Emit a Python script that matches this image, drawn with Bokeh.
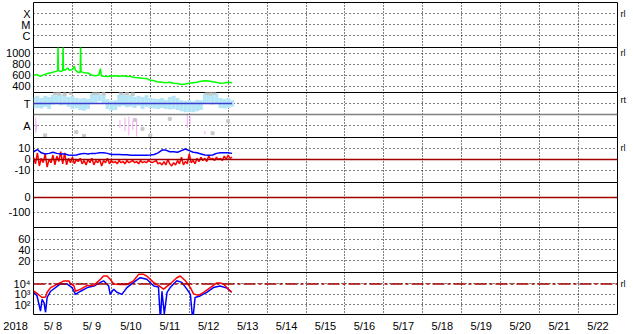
from bokeh.plotting import figure
from bokeh.layouts import column
from bokeh.models import Range1d, FixedTicker, Span, LinearAxis, LogAxis
from bokeh.embed import file_html
from bokeh.resources import INLINE

FONT = "Liberation Sans"

# ---------------- x axis (days since 2018-05-08 00UT) ----------------
year_label = "2018"
day_labels = ["5/ 8", "5/ 9", "5/10", "5/11", "5/12", "5/13", "5/14", "5/15",
              "5/16", "5/17", "5/18", "5/19", "5/20", "5/21", "5/22"]
N_DAYS = len(day_labels)

# ---------------- panel 1 : X-ray class ----------------
xray_ticks = [3, 2, 1]
xray_labels = ["X", "M", "C"]

# ---------------- panel 2 : solar wind speed ----------------
speed_ticks = [1000, 800, 600, 400]
speed_t = [0.00, 0.08, 0.17, 0.25, 0.33, 0.42, 0.50, 0.58, 0.62, 0.63, 0.64, 0.70, 0.75, 0.76, 0.77,
           0.83, 0.88, 0.92, 1.00, 1.05, 1.08, 1.13, 1.20, 1.21, 1.22, 1.30, 1.40, 1.50, 1.60, 1.68,
           1.72, 1.74, 1.80, 1.90, 2.00, 2.10, 2.20, 2.30, 2.40, 2.50, 2.60, 2.70, 2.80, 2.90, 3.00,
           3.10, 3.20, 3.30, 3.40, 3.50, 3.60, 3.70, 3.80, 3.90, 4.00, 4.10, 4.20, 4.30, 4.40, 4.50,
           4.60, 4.70, 4.80, 4.90, 5.00, 5.10]
speed_v = [590, 615, 580, 605, 625, 640, 655, 670, 680, 1150, 690, 665, 685, 1150, 690,
           700, 735, 690, 705, 765, 690, 660, 650, 1150, 665, 645, 640, 600, 590, 605,
           720, 590, 580, 575, 585, 590, 580, 592, 578, 575, 560, 555, 545, 540, 510,
           500, 475, 470, 462, 470, 455, 450, 432, 440, 452, 462, 472, 492, 500, 495,
           480, 470, 452, 458, 472, 465]

# ---------------- panel 3 : IMF sector (T / A) ----------------
sector_ticks = [1, -1]
sector_labels = ["T", "A"]
sector_t = [0.0, 5.1]
sector_v = [1, 1]
phi_hi = [1.6, 1.7, 1.5, 1.7, 1.6, 1.8, 1.75, 1.85, 1.7, 1.6,
          1.7, 1.5, 1.45, 1.5, 1.4, 1.9, 1.95, 1.85, 1.9, 1.4,
          1.25, 1.3, 1.8, 1.9, 1.7, 1.8, 1.6, 1.7, 1.6, 1.75,
          1.5, 1.45, 1.4, 1.5, 1.35, 1.6, 1.7, 1.5, 1.3, 1.25,
          1.3, 1.2, 1.35, 1.3, 1.9, 1.95, 1.85, 1.9, 1.5, 1.4,
          1.5, 1.3]
phi_lo = [0.5, 0.6, 0.55, 0.7, 0.5, 0.9, 1.0, 0.85, 0.9, 0.7,
          0.5, 0.6, 0.4, 0.35, 0.5, 1.0, 1.1, 1.2, 1.0, 0.5,
          0.35, 0.4, 0.7, 0.8, 0.65, 0.7, 0.6, 0.8, 0.5, 0.7,
          0.6, 0.55, 0.5, 0.6, 0.5, 0.45, 0.5, 0.4, 0.3, 0.2,
          0.25, 0.2, 0.3, 0.4, 1.0, 1.1, 0.9, 1.0, 0.6, 0.55,
          0.6, 0.7]
gray_t = [0.55, 0.65, 0.8, 0.95, 1.55, 1.65, 1.8, 2.25, 2.4, 2.55, 4.45, 4.55, 4.65,
          0.3, 1.1, 2.6, 2.8, 3.5, 4.6, 5.0, 1.3, 3.0]
gray_v = [1.95, 1.9, 1.85, 1.95, 1.95, 1.98, 1.9, 1.95, 1.9, 1.85, 1.95, 1.9, 1.98,
          -1.9, -1.6, -0.5, -1.3, -0.4, -1.7, -0.6, -1.95, -1.9]
pink_t = [0.06, 0.08, 2.22, 2.35, 2.45, 2.55, 2.65, 3.95, 4.02, 4.40]
pink_top = [-0.3, -0.9, -0.5, -0.3, -0.2, -0.6, -0.4, 0.1, -0.2, -1.5]
pink_bot = [-1.7, -1.4, -1.2, -1.5, -1.9, -1.4, -2.0, -1.2, -0.9, -1.8]

# ---------------- panel 4 : IMF Bt / Bz (nT) ----------------
imf_ticks = [10, 0, -10]
imf_labels = ["10", "0", "-10"]
bt = [7, 9, 6, 5, 5.5, 6.5, 5.5, 5, 5, 4,
      3.8, 4, 5, 5.5, 5, 5.5, 5.5, 6, 6, 5.5,
      4.5, 4.5, 4.5, 4.2, 4.2, 3.8, 3.8, 3.8, 3.8, 3.8,
      4, 4.5, 6, 8.5, 8.5, 7, 7, 6.5, 8, 9.5,
      8, 6.5, 6, 5, 4, 3.8, 4, 5.5, 6, 6,
      6, 5.5]
bz = [2, -4, 6, -6, 1, -3, 5, -7, 0, -3,
      4, -5, 3, -2, 7, -4, 6, -5, 1, -3,
      2, -4, 0, -2, 1, -4, -1, -5, 0, -3,
      1, -5, -1, -3, 0, -6, -1, -3, 1, -4,
      -1, -3, -2, -4, -1, -3, -2, -4, -1, -3,
      -2, -1, -3, -2, -4, -1, -3, -2, -3, -1,
      -2, -3, -2, -1, -4, -3, -5, -2, -5, 0,
      -4, -6, -3, -5, -1, -4, 2, -5, -2, -4,
      5, -3, -1, -4, 1, -2, 2, -1, 1, -2,
      3, 0, 1, -1, 2, 0, 1, -1, 3, 0,
      4, 1, 2]
bt_t = [i * 0.1 for i in range(len(bt))]
bz_t = [i * 0.05 for i in range(len(bz))]

# ---------------- panel 5 : Dst ----------------
dst_ticks = [0, -100]
dst_labels = ["0", "-100"]

# ---------------- panel 6 ----------------
p6_ticks = [60, 40, 20]
p6_labels = ["60", "40", "20"]

# ---------------- panel 7 : electron flux (log) ----------------
flux_ticks = [10000, 1000, 100]
flux_labels = ["10\u2074", "10\u00b3", "10\u00b2"]
flux_alert = 10000
red_t = [0.0, 0.09, 0.22, 0.31, 0.35, 0.44, 0.69, 0.78, 0.91, 0.95, 1.03, 1.08, 1.21, 1.38,
         1.55, 1.72, 1.80, 1.89, 1.97, 2.06, 2.23, 2.40, 2.57, 2.70, 2.83, 2.91, 3.09, 3.21,
         3.34, 3.51, 3.68, 3.77, 3.90, 4.03, 4.11, 4.24, 4.37, 4.54, 4.71, 4.79, 4.88, 5.01, 5.09]
red_flux = [2140, 1260, 500, 560, 1580, 4470, 13200, 19500, 19500, 10000, 7940, 2000, 3160, 7240,
            7240, 28200, 57500, 57500, 28200, 10000, 8910, 8910, 20000, 83200, 83200, 57500, 13500, 7240,
            3160, 10000, 39800, 57500, 20000, 4470, 1120, 794, 1580, 4470, 12600, 12600, 10000, 3160, 1580]
blue_t = [0.0, 0.09, 0.18, 0.22, 0.27, 0.31, 0.35, 0.44, 0.69, 0.86, 0.99, 1.08, 1.21, 1.38,
          1.55, 1.72, 1.80, 1.93, 1.97, 2.06, 2.14, 2.27, 2.40, 2.57, 2.74, 2.91, 3.09, 3.21,
          3.26, 3.30, 3.36, 3.43, 3.51, 3.68, 3.81, 3.94, 4.03, 4.09, 4.15, 4.28, 4.45, 4.62,
          4.79, 4.97, 5.09]
blue_flux = [1580, 740, 25, 320, 160, 19, 500, 2000, 10000, 10000, 4470, 1000, 2000, 4470,
             6310, 14100, 20000, 6310, 1000, 3160, 1580, 1000, 4470, 14100, 39800, 28200, 6310, 5010,
             3, 2000, 13, 1580, 4470, 20000, 14100, 3160, 1000, 3, 500, 710, 1580, 4470,
             6310, 3980, 1580]

FRAME_L, FRAME_R, FRAME_W = 33, 16, 584
xr = Range1d(0, N_DAYS)
DAY_LINES = list(range(1, N_DAYS))


def style_axis(ax, size="11px", standoff=3):
    ax.axis_line_color = None
    ax.major_tick_line_color = None
    ax.minor_tick_line_color = None
    ax.major_tick_out = 0
    ax.major_tick_in = 0
    ax.major_label_standoff = standoff
    ax.major_label_text_font = FONT
    ax.major_label_text_font_size = size
    ax.major_label_text_color = "black"


def make_panel(height, yr, ticks, labels, top=0, log=False, margin_top=-1, rl=None, rl_text="rl"):
    p = figure(width=633, height=height, x_range=xr, y_range=yr, title=None,
               y_axis_type="log" if log else "linear",
               x_axis_location=None,
               output_backend="svg", toolbar_location=None,
               min_border_left=FRAME_L, min_border_right=FRAME_R,
               min_border_top=top, min_border_bottom=0)
    p.margin = (margin_top, 0, 0, 0)
    p.background_fill_color = "white"
    p.border_fill_color = "white"
    p.outline_line_color = "black"
    p.outline_line_width = 1
    ax = p.yaxis[0]
    ax.ticker = FixedTicker(ticks=ticks)
    ax.major_label_overrides = dict(zip(ticks, labels))
    style_axis(ax)
    if rl is not None:
        rax = (LogAxis if log else LinearAxis)(ticker=FixedTicker(ticks=[rl]))
        rax.major_label_overrides = {rl: rl_text}
        style_axis(rax, size="9px", standoff=3)
        p.add_layout(rax, "right")
    p.xgrid.ticker = FixedTicker(ticks=DAY_LINES)
    p.xgrid.grid_line_color = "black"
    p.xgrid.grid_line_dash = "1 2"
    p.ygrid.grid_line_color = "black"
    p.ygrid.grid_line_dash = "1 3"
    return p


figs = []

# panel 1
p1 = make_panel(48, Range1d(-0.18, 4.0), xray_ticks, xray_labels, top=2, margin_top=0, rl=3)
figs.append(p1)

# panel 2
p2 = make_panel(46, Range1d(267, 1105), speed_ticks, [str(v) for v in speed_ticks], rl=1000)
p2.line(speed_t, speed_v, color="#00ff00", line_width=1.5)
figs.append(p2)

# panel 3
p3 = make_panel(46, Range1d(-2.18, 2.0), sector_ticks, sector_labels, rl=1.3, rl_text="rt")
p3.add_layout(Span(location=0, dimension="width", line_color="#808080", line_width=1.5))
p3.vbar(x=[i * 0.1 for i in range(len(phi_hi))], width=0.1, bottom=phi_lo, top=phi_hi,
        fill_color="#b4e6f7", line_color=None)
p3.scatter(gray_t, gray_v, marker="square", size=3, color="#c8c8c8")
p3.segment(x0=pink_t, y0=pink_top, x1=pink_t, y1=pink_bot, line_color="#f2a8f2", line_width=1)
p3.line(sector_t, sector_v, color="#3c3cd0", line_width=1.5)
figs.append(p3)

# panel 4
p4 = make_panel(46, Range1d(-22, 20), imf_ticks, imf_labels, rl=10)
p4.add_layout(Span(location=0, dimension="width", line_color="#a00000", line_width=1.5))
p4.line(bz_t, bz, color="#ff0000", line_width=1.5)
p4.line(bt_t, bt, color="#0000ff", line_width=1.5)
figs.append(p4)

# panel 5
p5 = make_panel(46, Range1d(-207, 100), dst_ticks, dst_labels)
p5.add_layout(Span(location=0, dimension="width", line_color="#a00000", line_width=1.5))
figs.append(p5)

# panel 6
p6 = make_panel(46, Range1d(-3, 81), p6_ticks, p6_labels)
figs.append(p6)

# panel 7
p7 = make_panel(43, Range1d(10 ** 0.97, 10 ** 5.1), flux_ticks, flux_labels, log=True, rl=flux_alert)
p7.add_layout(Span(location=flux_alert, dimension="width", line_color="#a00000",
                   line_width=1.5, line_dash="12 3 3 3"))
p7.line(blue_t, blue_flux, color="#0000ff", line_width=1.5)
p7.line(red_t, red_flux, color="#ff0000", line_width=1.5)
figs.append(p7)

# date axis strip (frame starts at the page's left edge so that the year fits)
x_start = -FRAME_L * N_DAYS / FRAME_W
pa = figure(width=633, height=23, x_range=Range1d(x_start, N_DAYS), y_range=Range1d(0, 1),
            title=None, y_axis_location=None, x_axis_location="below",
            output_backend="svg", toolbar_location=None,
            min_border_left=0, min_border_right=FRAME_R, min_border_top=0, min_border_bottom=0)
pa.frame_align = False
pa.margin = (-4, 0, 0, 0)
pa.background_fill_color = None
pa.border_fill_color = None
pa.outline_line_color = None
pa.grid.visible = False
year_pos = -0.46
centers = [i + 0.5 for i in range(N_DAYS)]
xa = pa.xaxis[0]
xa.ticker = FixedTicker(ticks=[year_pos] + centers)
xa.major_label_overrides = dict(zip([year_pos] + centers, [year_label] + day_labels))
style_axis(xa, standoff=0)
figs.append(pa)

layout = column(*figs, spacing=0)
open("out.html", "w").write(file_html(layout, INLINE))
